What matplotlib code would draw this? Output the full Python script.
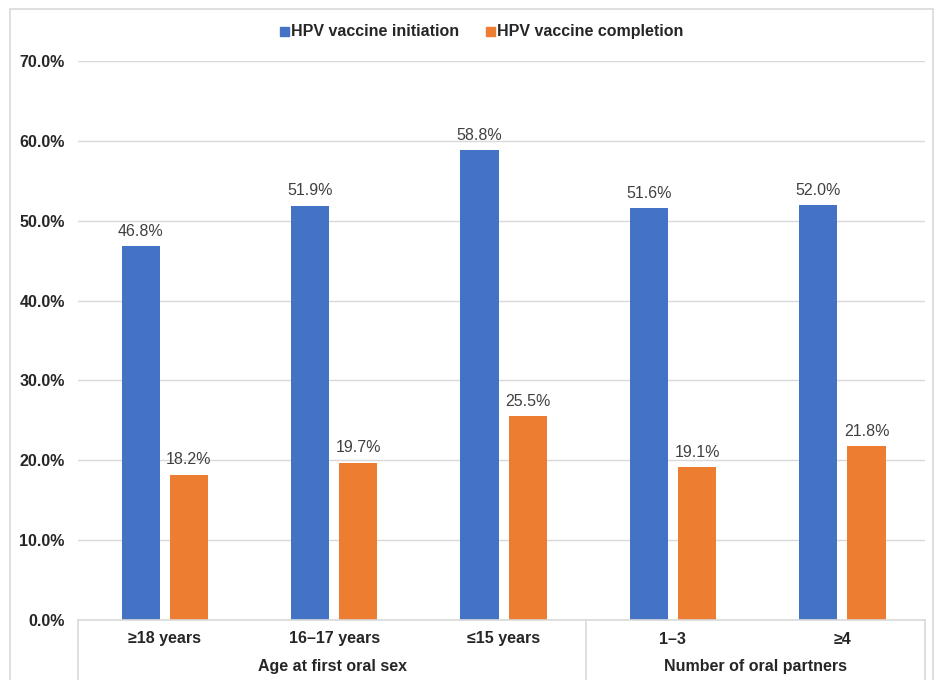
import matplotlib.pyplot as plt
import matplotlib.transforms as mtransforms
from matplotlib.patches import Rectangle
import numpy as np

plt.rcParams['font.family'] = ['Liberation Sans', 'DejaVu Sans']

# Datos
categorias = ["\u226518 years", "16\u201317 years", "\u226415 years", "1\u20133", "\u22654"]
grupos = ["Age at first oral sex", "Number of oral partners"]
tamano_grupos = [3, 2]
iniciacion = [46.8, 51.9, 58.8, 51.6, 52.0]
completado = [18.2, 19.7, 25.5, 19.1, 21.8]
series = ["HPV vaccine initiation", "HPV vaccine completion"]

azul = "#4472C4"
naranja = "#ED7D31"
gris = "#D9D9D9"
texto = "#262626"
fs = 11.5

fig = plt.figure(figsize=(9.37, 6.8), dpi=100)
W, H = 937, 680
ax = fig.add_axes([78 / W, (H - 620) / H, (925 - 78) / W, (620 - 61) / H])

# Marco del grafico
fig.patches.append(Rectangle((10 / W, -0.01), (933 - 10) / W, (H - 9) / H + 0.01,
                             transform=fig.transFigure, fill=False,
                             edgecolor=gris, linewidth=1.2))

x = np.arange(len(categorias))
ancho = 0.225
b1 = ax.bar(x - 0.13, iniciacion, ancho, color=azul, label=series[0], zorder=3)
b2 = ax.bar(x + 0.155, completado, ancho, color=naranja, label=series[1], zorder=3)

for barras, vals in [(b1, iniciacion), (b2, completado)]:
    for b, v in zip(barras, vals):
        ax.text(b.get_x() + b.get_width() / 2, v + 0.9, f"{v:.1f}%",
                ha="center", va="bottom", fontsize=fs, color="#404040")

ax.set_xlim(-0.5, len(categorias) - 0.5)
ax.set_ylim(0, 70)
ax.set_yticks(np.arange(0, 71, 10))
ax.set_yticklabels([f"{v:.1f}%" for v in range(0, 71, 10)],
                   fontsize=fs, fontweight="bold", color=texto)
ax.tick_params(axis="y", length=0, pad=9.5)
ax.set_xticks([])
ax.grid(axis="y", color=gris, linewidth=1, zorder=0)
for s in ["top", "right", "left"]:
    ax.spines[s].set_visible(False)
ax.spines["bottom"].set_color(gris)
ax.spines["bottom"].set_linewidth(1.2)
ax.spines["bottom"].set_zorder(4)

# Etiquetas de categorias y grupos
trans = mtransforms.blended_transform_factory(ax.transData, ax.transAxes)
h_ax = 620 - 61
for i, c in enumerate(categorias):
    ax.text(i + 0.012, -19 / h_ax, c, transform=trans, ha="center", va="center",
            fontsize=fs, fontweight="bold", color=texto)

inicio = -0.5
for g, n in zip(grupos, tamano_grupos):
    centro = inicio + n / 2
    ax.text(centro, -47 / h_ax, g, transform=trans, ha="center", va="center",
            fontsize=fs, fontweight="bold", color=texto)
    ax.plot([inicio, inicio], [0, -62 / h_ax], transform=trans, color=gris,
            linewidth=1.2, clip_on=False)
    inicio += n
ax.plot([inicio, inicio], [0, -62 / h_ax], transform=trans, color=gris,
        linewidth=1.2, clip_on=False)

# Leyenda superior
for xc, nombre, col in [(280, series[0], azul), (486, series[1], naranja)]:
    fig.patches.append(Rectangle((xc / W, (H - 36) / H), 9 / W, 9 / H,
                                 transform=fig.transFigure, color=col))
    fig.text((xc + 11) / W, (H - 36) / H, nombre, ha="left", va="baseline",
             fontsize=fs, fontweight="bold", color=texto)

fig.savefig("out.png", dpi=100)
